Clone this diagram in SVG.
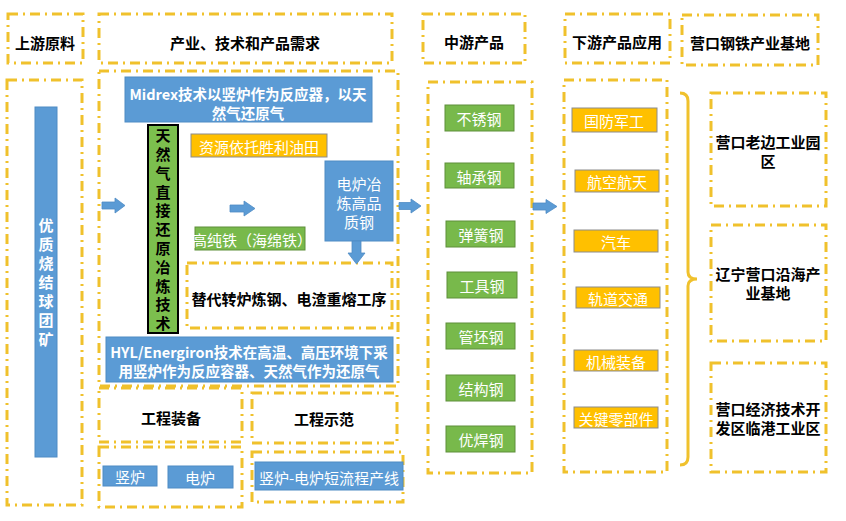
<svg xmlns="http://www.w3.org/2000/svg" width="846" height="521" viewBox="0 0 846 521">
<defs>
<style>
text{font-family:"Noto Sans CJK SC","Liberation Sans",sans-serif;text-anchor:middle;dominant-baseline:central}
.d{fill:none;stroke:#F0C12C;stroke-width:3;stroke-dasharray:10 5 2 5}
.b{fill:#5B9BD5;stroke:#4F8BC4;stroke-width:1}
.g{fill:#78B94B;stroke:#5E8F3A;stroke-width:1}
.o{fill:#FFC000;stroke:#8C8C8C;stroke-width:1}
.h{font-size:15px;font-weight:bold;fill:#000}
.w{font-size:15px;fill:#fff}
.wb{font-size:14.5px;fill:#fff;font-weight:bold}
.v{writing-mode:vertical-rl;text-anchor:start}
.ar{fill:#5B9BD5;stroke:#4F8BC4;stroke-width:0.8}
</style>
</defs>
<rect width="846" height="521" fill="#fff"/>

<g id="hdr-upstream"><rect class="d" x="8" y="14" width="75" height="49"/><text class="h" x="45" y="42">上游原料</text></g>
<g id="hdr-industry"><rect class="d" x="99" y="14" width="293" height="49"/><text class="h" x="245" y="42">产业、技术和产品需求</text></g>
<g id="hdr-mid"><rect class="d" x="423" y="14" width="102" height="49"/><text class="h" x="474" y="41">中游产品</text></g>
<g id="hdr-down"><rect class="d" x="565" y="14" width="105" height="49"/><text class="h" x="617" y="41">下游产品应用</text></g>
<g id="hdr-base"><rect class="d" x="682" y="15" width="136" height="50"/><text class="h" x="750" y="42">营口钢铁产业基地</text></g>

<g id="upstream">
<rect class="d" x="7" y="80" width="75" height="425"/>
<rect class="b" x="35" y="107" width="22" height="350"/>
<text class="w v" font-weight="bold" x="46" y="218" letter-spacing="4">优质烧结球团矿</text>
</g>

<g id="industry">
<rect class="d" x="99" y="71" width="299" height="315"/>
</g>
<g id="midrex"><rect class="b" x="125" y="77" width="247" height="45"/>
<text class="wb" x="248" y="93">Midrex技术以竖炉作为反应器，以天<tspan x="248" dy="19">然气还原气</tspan></text></g>
<g id="dri-tech"><rect x="148" y="125" width="30" height="208" fill="#7CBF4E" stroke="#000" stroke-width="2"/>
<text class="h v" x="163" y="128" letter-spacing="3.8">天然气直接还原冶炼技术</text></g>
<g id="shengli"><rect class="o" x="191" y="134" width="136" height="23"/><text class="w" x="259" y="146">资源依托胜利油田</text></g>
<g id="eaf-steel"><rect class="b" x="325" y="161" width="68" height="80"/>
<text class="w" x="359" y="183">电炉冶<tspan x="359" dy="19">炼高品</tspan><tspan x="359" dy="19">质钢</tspan></text></g>
<g id="sponge-iron"><rect class="g" x="195" y="227" width="110" height="23"/><text class="w" x="252" y="239" font-size="13.5">高纯铁（海绵铁）</text></g>
<g id="replace"><rect class="d" x="187" y="263" width="205" height="65"/><text class="h" x="289" y="298">替代转炉炼钢、电渣重熔工序</text></g>
<g id="hyl"><rect class="b" x="106" y="337" width="287" height="45"/>
<text class="wb" x="249" y="351">HYL/Energiron技术在高温、高压环境下采<tspan x="249" dy="19">用竖炉作为反应容器、天然气作为还原气</tspan></text></g>

<g id="equip-hdr"><rect class="d" x="99" y="388" width="143" height="54"/><text class="h" x="171" y="417">工程装备</text></g>
<g id="demo-hdr"><rect class="d" x="252" y="393" width="145" height="50"/><text class="h" x="324" y="418">工程示范</text></g>
<g id="equip"><rect class="d" x="99" y="447" width="143" height="60"/>
<rect class="b" x="103" y="466" width="54" height="20"/><text class="w" x="130" y="476">竖炉</text>
<rect class="b" x="168" y="466" width="65" height="22"/><text class="w" x="200" y="477">电炉</text></g>
<g id="demo"><rect class="d" x="252" y="452" width="151" height="50"/>
<rect class="b" x="255" y="462" width="148" height="28"/><text class="w" x="329" y="477">竖炉-电炉短流程产线</text></g>

<g id="midstream"><rect class="d" x="428" y="82" width="104" height="391"/>
<rect class="g" x="445" y="105" width="69" height="26"/><text class="w" x="479" y="118">不锈钢</text>
<rect class="g" x="445" y="163" width="69" height="25"/><text class="w" x="479" y="176">轴承钢</text>
<rect class="g" x="446" y="221" width="69" height="26"/><text class="w" x="481" y="234">弹簧钢</text>
<rect class="g" x="447" y="272" width="70" height="26"/><text class="w" x="482" y="285">工具钢</text>
<rect class="g" x="446" y="323" width="69" height="26"/><text class="w" x="481" y="336">管坯钢</text>
<rect class="g" x="446" y="375" width="69" height="26"/><text class="w" x="481" y="388">结构钢</text>
<rect class="g" x="446" y="426" width="69" height="26"/><text class="w" x="481" y="439">优焊钢</text>
</g>

<g id="downstream"><rect class="d" x="564" y="80" width="103" height="392"/>
<rect class="o" x="572" y="108" width="85" height="24"/><text class="w" x="614" y="120">国防军工</text>
<rect class="o" x="575" y="170" width="84" height="22"/><text class="w" x="617" y="181">航空航天</text>
<rect class="o" x="574" y="230" width="84" height="22"/><text class="w" x="616" y="241">汽车</text>
<rect class="o" x="576" y="287" width="84" height="21"/><text class="w" x="618" y="298">轨道交通</text>
<rect class="o" x="574" y="350" width="84" height="21"/><text class="w" x="616" y="361">机械装备</text>
<rect class="o" x="574" y="407" width="84" height="21"/><text class="w" x="616" y="418">关键零部件</text>
</g>

<g id="base1"><rect class="d" x="711" y="93" width="115" height="113"/><text class="h" x="768" y="141">营口老边工业园<tspan x="768" dy="19">区</tspan></text></g>
<g id="base2"><rect class="d" x="711" y="225" width="115" height="116"/><text class="h" x="768" y="273">辽宁营口沿海产<tspan x="768" dy="19">业基地</tspan></text></g>
<g id="base3"><rect class="d" x="711" y="363" width="115" height="109"/><text class="h" x="768" y="408">营口经济技术开<tspan x="768" dy="19">发区临港工业区</tspan></text></g>

<g id="connectors">
<path class="ar" d="M102,202 H115 V198 L125,205.5 L115,213 V209 H102 Z"/>
<path class="ar" d="M230,205 H244 V201 L255,208.5 L244,216 V212 H230 Z"/>
<path class="ar" d="M399,202.5 H411 V199 L421,206 L411,213 V209.5 H399 Z"/>
<path class="ar" d="M533,203 H546 V199.5 L557,206.5 L546,213.5 V210 H533 Z"/>
<path class="ar" d="M352,241 H361 V253 H365 L356.5,264 L348,253 H352 Z"/>
<path d="M680,93 Q688,93 688,101 V272 Q688,279 697,279 Q688,279 688,286 V457 Q688,465 680,465" fill="none" stroke="#F0C12C" stroke-width="3"/>
</g>
</svg>
